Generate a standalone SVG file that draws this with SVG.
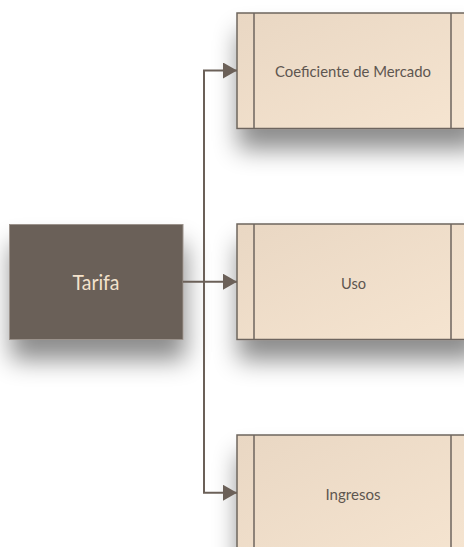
<svg xmlns="http://www.w3.org/2000/svg" width="464" height="547" viewBox="0 0 464 547">
  <defs>
    <linearGradient id="beige" x1="0" y1="0" x2="1" y2="1">
      <stop offset="0" stop-color="#e9d7c3"/>
      <stop offset="1" stop-color="#f6e5d1"/>
    </linearGradient>
    <filter id="shadow" x="-30%" y="-30%" width="160%" height="190%">
      <feDropShadow dx="2" dy="20" stdDeviation="12" flood-color="#000" flood-opacity="0.45"/>
    </filter>
    <marker id="arrow" markerWidth="14" markerHeight="16" refX="14" refY="8" orient="auto" markerUnits="userSpaceOnUse">
      <path d="M0,0 L14,8 L0,16 Z" fill="#6b6058"/>
    </marker>
  </defs>
  <style>
    .box { fill: url(#beige); stroke: #6e655e; stroke-width: 1.5; }
    .div { stroke: #6e655e; stroke-width: 1.5; }
    .lbl { font-family: Lato, "Open Sans", "Liberation Sans", sans-serif; fill: #5e5650; text-anchor: middle; }
    .conn { fill: none; stroke: #6b6058; stroke-width: 2; }
  </style>
  <rect width="464" height="547" fill="#ffffff"/>

  <g id="tarifa">
    <rect x="9.5" y="224.5" width="173.5" height="115" fill="#6b6058" stroke="#9b928b" stroke-width="1" filter="url(#shadow)"/>
    <text x="96" y="290" font-family="Lato, 'Open Sans', 'Liberation Sans', sans-serif" font-size="22" fill="#f3e2cc" text-anchor="middle" textLength="47" lengthAdjust="spacingAndGlyphs">Tarifa</text>
  </g>

  <g id="coeficiente">
    <rect class="box" x="237" y="13" width="240" height="115.5" filter="url(#shadow)"/>
    <line class="div" x1="254" y1="13" x2="254" y2="128.5"/>
    <line class="div" x1="451" y1="13" x2="451" y2="128.5"/>
    <text class="lbl" x="353" y="77" font-size="16" textLength="156" lengthAdjust="spacingAndGlyphs">Coeficiente de Mercado</text>
  </g>

  <g id="uso">
    <rect class="box" x="237" y="224" width="240" height="115.5" filter="url(#shadow)"/>
    <line class="div" x1="254" y1="224" x2="254" y2="339.5"/>
    <line class="div" x1="451" y1="224" x2="451" y2="339.5"/>
    <text class="lbl" x="353.5" y="288.5" font-size="16" textLength="25" lengthAdjust="spacingAndGlyphs">Uso</text>
  </g>

  <g id="ingresos">
    <rect class="box" x="237" y="435" width="240" height="130" filter="url(#shadow)"/>
    <line class="div" x1="254" y1="435" x2="254" y2="565"/>
    <line class="div" x1="451" y1="435" x2="451" y2="565"/>
    <text class="lbl" x="353" y="499.5" font-size="16" textLength="55" lengthAdjust="spacingAndGlyphs">Ingresos</text>
  </g>

  <g id="connectors">
    <line class="conn" x1="204" y1="70.5" x2="204" y2="492.8"/>
    <path class="conn" d="M183,281.7 L237,281.7" marker-end="url(#arrow)"/>
    <path class="conn" d="M203,70.5 L237,70.5" marker-end="url(#arrow)"/>
    <path class="conn" d="M203,492.8 L237,492.8" marker-end="url(#arrow)"/>
  </g>
</svg>
